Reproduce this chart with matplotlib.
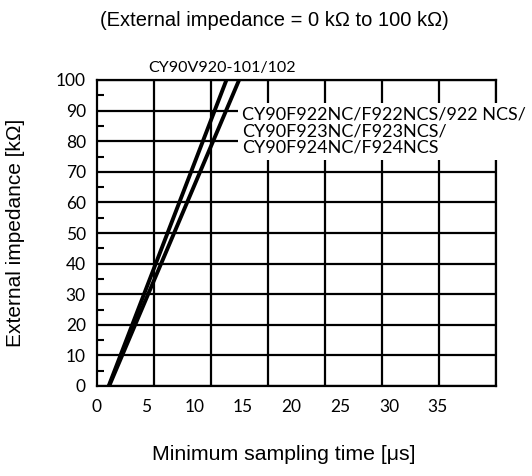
import numpy as np
import matplotlib
matplotlib.use("Agg")
from matplotlib import pyplot as plt
from matplotlib.ticker import MultipleLocator, FixedLocator

# Line data (sampling time [us], impedance [kOhm])
v920_time = [1.2, 13.3]
v920_imp = [0, 100]
f92x_time = [1.25, 14.6]
f92x_imp = [0, 100]

x_tick_values = [0, 5, 10, 15, 20, 25, 30, 35]
x_max = 41
y_max = 100

label_v920 = "CY90V920-101/102"
label_f92x = "CY90F922NC/F922NCS/922 NCS/\nCY90F923NC/F923NCS/\nCY90F924NC/F924NCS"

fig = plt.figure(figsize=(5.32, 4.76), dpi=100)
ax = fig.add_axes([97 / 532, 1 - 386 / 476, 399 / 532, 306 / 476])

# Axis ranges
ax.set_xlim(0, x_max)
ax.set_ylim(0, y_max)

# Labels on x sit on their own scale, grid splits the width in 7 cells
ax.xaxis.set_major_locator(FixedLocator(x_tick_values))
ax.xaxis.set_minor_locator(FixedLocator(np.linspace(0, x_max, 8)))
ax.yaxis.set_major_locator(MultipleLocator(10))
ax.yaxis.set_minor_locator(MultipleLocator(5))

ax.grid(True, which="minor", axis="x", color="black", lw=1.6)
ax.grid(True, which="major", axis="y", color="black", lw=1.6)
ax.set_axisbelow(True)

ax.tick_params(axis="x", which="both", length=0, pad=9)
ax.tick_params(axis="y", which="major", length=0, pad=8)
ax.tick_params(axis="y", which="minor", direction="in", length=5, width=1.5)

tick_font = "Lato"
for lbl in ax.get_xticklabels() + ax.get_yticklabels():
    lbl.set_fontfamily(tick_font)
    lbl.set_fontsize(12.5)

for side in ["left", "right", "top", "bottom"]:
    ax.spines[side].set_linewidth(1.6)

# Plot the two curves
ax.plot(v920_time, v920_imp, color="black", lw=2.8, solid_capstyle="butt", zorder=4)
ax.plot(f92x_time, f92x_imp, color="black", lw=2.8, solid_capstyle="butt", zorder=4)

# Curve labels
ax.text(12.9, 101.5, label_v920, family=tick_font, fontsize=11.5,
        ha="center", va="bottom")
ax.text(14.9, 83.3, label_f92x, family=tick_font, fontsize=13,
        ha="left", va="center", linespacing=1.02, zorder=3,
        bbox=dict(facecolor="white", edgecolor="none", pad=3))

# Titles and axis labels
fig.text(274 / 532, 1 - 21 / 476, "(External impedance = 0 k\u03a9 to 100 k\u03a9)",
         family="Liberation Sans", fontsize=14.5, ha="center", va="center")
fig.text(16 / 532, 1 - 233 / 476, "External impedance [k\u03a9]",
         family="Liberation Sans", fontsize=15, ha="center", va="center",
         rotation=90)
fig.text(284 / 532, 1 - 455 / 476, "Minimum sampling time [\u03bcs]",
         family="Liberation Sans", fontsize=15.3, ha="center", va="center")

fig.savefig("out.png", dpi=100)
